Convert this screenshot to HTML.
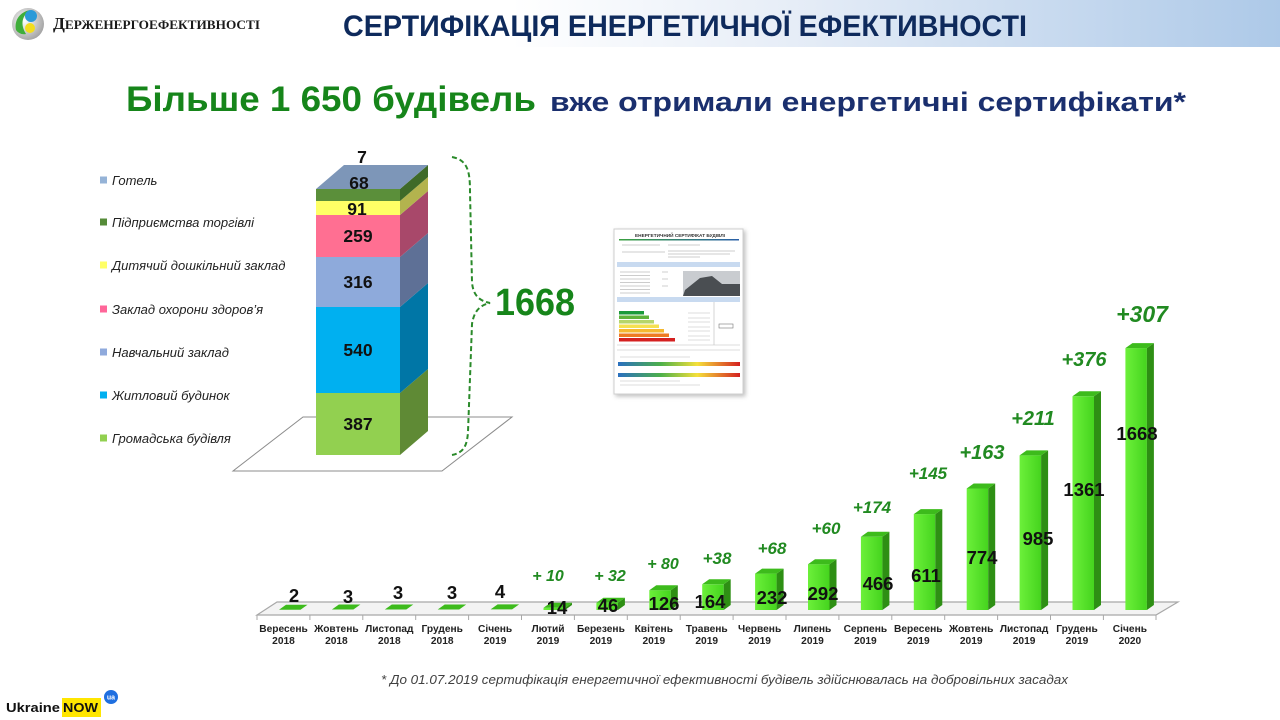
<!DOCTYPE html>
<html><head><meta charset="utf-8"><style>
html,body{margin:0;padding:0;background:#fff;}
svg{display:block;}
text{font-family:"Liberation Sans",sans-serif;}
</style></head><body>
<svg width="1280" height="720" viewBox="0 0 1280 720" xmlns="http://www.w3.org/2000/svg">
<defs>
<linearGradient id="hdr" x1="0" y1="0" x2="1" y2="0">
<stop offset="0" stop-color="#ffffff"/><stop offset="0.4" stop-color="#ffffff"/><stop offset="0.62" stop-color="#e6edf7"/><stop offset="1" stop-color="#adc9e8"/>
</linearGradient>
<linearGradient id="gf" x1="0" y1="0" x2="1" y2="0">
<stop offset="0" stop-color="#6cf03a"/><stop offset="1" stop-color="#45d41e"/>
</linearGradient>
<linearGradient id="scale" x1="0" y1="0" x2="1" y2="0">
<stop offset="0" stop-color="#2a6fc0"/><stop offset="0.35" stop-color="#4db04a"/><stop offset="0.65" stop-color="#f5e03a"/><stop offset="1" stop-color="#d42020"/>
</linearGradient>
<linearGradient id="tl" x1="0" y1="0" x2="1" y2="0">
<stop offset="0" stop-color="#3aa040"/><stop offset="1" stop-color="#2a5fa8"/>
</linearGradient>
<radialGradient id="logo" cx="0.4" cy="0.4" r="0.7">
<stop offset="0" stop-color="#ffffff"/><stop offset="1" stop-color="#9a9a9a"/>
</radialGradient>
<filter id="sh" x="-10%" y="-10%" width="130%" height="130%"><feDropShadow dx="2" dy="2" stdDeviation="2" flood-color="#000" flood-opacity="0.25"/></filter>
</defs>

<!-- header -->
<rect x="0" y="0" width="1280" height="47" fill="url(#hdr)"/>
<circle cx="28" cy="24" r="16" fill="url(#logo)"/>
<path d="M16,30 C14,20 20,12 30,10 C22,16 20,24 26,34 C22,35 18,33 16,30 Z" fill="#3fae3a"/>
<circle cx="31" cy="16" r="6" fill="#2a9ad8"/>
<circle cx="30" cy="28" r="5" fill="#f2dd1e"/>
<text x="53" y="29" style="font-family:'Liberation Serif',serif;font-weight:bold" fill="#1a1a1a" textLength="207" lengthAdjust="spacingAndGlyphs"><tspan font-size="17">Д</tspan><tspan font-size="13">ЕРЖЕНЕРГОЕФЕКТИВНОСТІ</tspan></text>
<text x="343" y="36" font-size="30" font-weight="bold" fill="#0e2a5c" textLength="684" lengthAdjust="spacingAndGlyphs">СЕРТИФІКАЦІЯ ЕНЕРГЕТИЧНОЇ ЕФЕКТИВНОСТІ</text>

<!-- subtitle -->
<text x="126" y="111" font-size="35" font-weight="bold" fill="#16851a" textLength="410" lengthAdjust="spacingAndGlyphs">Більше 1 650 будівель</text>
<text x="550" y="111" font-size="27" font-weight="bold" fill="#1a2f6e" textLength="636" lengthAdjust="spacingAndGlyphs">вже отримали енергетичні сертифікати*</text>

<!-- legend -->
<g font-size="13" font-style="italic" fill="#222">
<rect x="100" y="176.5" width="7" height="7" fill="#95b3d7"/><text x="112" y="185">Готель</text>
<rect x="100" y="218.5" width="7" height="7" fill="#558b38"/><text x="112" y="227">Підприємства торгівлі</text>
<rect x="100" y="261.5" width="7" height="7" fill="#ffff66"/><text x="112" y="270">Дитячий дошкільний заклад</text>
<rect x="100" y="305.5" width="7" height="7" fill="#ff6699"/><text x="112" y="314">Заклад охорони здоров’я</text>
<rect x="100" y="348.5" width="7" height="7" fill="#8faadc"/><text x="112" y="357">Навчальний заклад</text>
<rect x="100" y="391.5" width="7" height="7" fill="#00b0f0"/><text x="112" y="400">Житловий будинок</text>
<rect x="100" y="434.5" width="7" height="7" fill="#92d050"/><text x="112" y="443">Громадська будівля</text>
</g>

<!-- stacked floor -->
<polygon points="233,471 442,471 512,417 303,417" fill="#fff" stroke="#8c8c8c" stroke-width="1"/>

<!-- stacked bar -->
<g>
<rect x="316" y="393" width="84" height="62" fill="#92d050"/>
<polygon points="400,455 428,431 428,369 400,393" fill="#5f8a35"/>
<rect x="316" y="307" width="84" height="86" fill="#00b0f0"/>
<polygon points="400,393 428,369 428,283 400,307" fill="#0076a6"/>
<rect x="316" y="257" width="84" height="50" fill="#8eaadb"/>
<polygon points="400,307 428,283 428,233 400,257" fill="#5e7096"/>
<rect x="316" y="215" width="84" height="42" fill="#ff6f92"/>
<polygon points="400,257 428,233 428,191 400,215" fill="#a8486a"/>
<rect x="316" y="201" width="84" height="14" fill="#ffff66"/>
<polygon points="400,215 428,191 428,177 400,201" fill="#b3b34e"/>
<rect x="316" y="189" width="84" height="12" fill="#5b8f3a"/>
<polygon points="400,201 428,177 428,165 400,189" fill="#3f6a28"/>
<polygon points="316,189 344,165 428,165 400,189" fill="#7d96b8"/>
</g>
<g font-size="17.5" font-weight="bold" fill="#111" text-anchor="middle">
<text x="358" y="430">387</text>
<text x="358" y="356">540</text>
<text x="358" y="288">316</text>
<text x="358" y="242">259</text>
<text x="357" y="215">91</text>
<text x="359" y="189">68</text>
<text x="362" y="163">7</text>
</g>

<!-- brace -->
<path d="M452,157 C468,160 470,172 470,192 L472,282 C473,296 480,301 490,303 C480,305 474,311 472,324 L468,432 C467,448 462,453 452,455" fill="none" stroke="#2a8a2a" stroke-width="2" stroke-dasharray="5,3"/>
<text x="495" y="315" font-size="38" font-weight="bold" fill="#16851a" textLength="80" lengthAdjust="spacingAndGlyphs">1668</text>

<!-- certificate -->
<g filter="url(#sh)">
<rect x="614" y="229" width="129" height="165" fill="#fff" stroke="#cfcfcf" stroke-width="1"/>
</g>
<text x="680" y="237" font-size="4.5" font-weight="bold" fill="#333" text-anchor="middle" textLength="90" lengthAdjust="spacingAndGlyphs">ЕНЕРГЕТИЧНИЙ СЕРТИФІКАТ БУДІВЛІ</text>
<rect x="619" y="239" width="120" height="1.5" fill="url(#tl)"/>
<g stroke="#bbb" stroke-width="0.8">
<line x1="622" y1="245" x2="660" y2="245"/><line x1="668" y1="245" x2="700" y2="245"/>
<line x1="622" y1="252" x2="665" y2="252"/><line x1="668" y1="251" x2="735" y2="251"/><line x1="668" y1="254" x2="730" y2="254"/><line x1="668" y1="257" x2="700" y2="257"/>
</g>
<rect x="617" y="262" width="123" height="5" fill="#c8daf0"/>
<g stroke="#bbb" stroke-width="0.7">
<line x1="620" y1="272" x2="650" y2="272"/><line x1="620" y1="275.5" x2="650" y2="275.5"/><line x1="620" y1="279" x2="650" y2="279"/><line x1="620" y1="282.5" x2="650" y2="282.5"/><line x1="620" y1="286" x2="650" y2="286"/><line x1="620" y1="289.5" x2="650" y2="289.5"/><line x1="620" y1="293" x2="650" y2="293"/>
<line x1="662" y1="272" x2="668" y2="272"/><line x1="662" y1="279" x2="668" y2="279"/><line x1="662" y1="286" x2="668" y2="286"/>
</g>
<rect x="683" y="271" width="57" height="25" fill="#c9ccd0"/>
<polygon points="685,290 700,278 712,276 722,284 740,284 740,296 683,296" fill="#4a4e52"/>
<rect x="617" y="297" width="123" height="5" fill="#c8daf0"/>
<rect x="619" y="311" width="25" height="3.5" fill="#1a9a3a"/>
<rect x="619" y="315.5" width="30" height="3.5" fill="#5db33a"/>
<rect x="619" y="320" width="35" height="3.5" fill="#b5d56a"/>
<rect x="619" y="324.5" width="40" height="3.5" fill="#f5e050"/>
<rect x="619" y="329" width="45" height="3.5" fill="#f5b830"/>
<rect x="619" y="333.5" width="50" height="3.5" fill="#ee7a22"/>
<rect x="619" y="338" width="56" height="3.5" fill="#d42020"/>
<g stroke="#bbb" stroke-width="0.6">
<line x1="688" y1="313" x2="710" y2="313"/><line x1="688" y1="318" x2="710" y2="318"/><line x1="688" y1="322" x2="710" y2="322"/><line x1="688" y1="327" x2="710" y2="327"/><line x1="688" y1="331" x2="710" y2="331"/><line x1="688" y1="336" x2="710" y2="336"/><line x1="688" y1="340" x2="710" y2="340"/>
<line x1="714" y1="302" x2="714" y2="345"/>
<line x1="617" y1="345" x2="740" y2="345"/><line x1="617" y1="350" x2="740" y2="350"/>
<line x1="620" y1="357" x2="690" y2="357"/>
<line x1="620" y1="381" x2="680" y2="381"/><line x1="620" y1="385" x2="700" y2="385"/>
</g>
<rect x="719" y="324" width="14" height="4" fill="none" stroke="#777" stroke-width="0.6"/>
<rect x="618" y="362" width="122" height="4" fill="url(#scale)"/>
<rect x="618" y="373" width="122" height="4" fill="url(#scale)"/>

<!-- growth chart floor -->
<polygon points="257,615 1156,615 1178,602 277,602" fill="#f3f3f3" stroke="#a8a8a8" stroke-width="1.2"/>
<g stroke="#a8a8a8" stroke-width="1">
<line x1="257" y1="615" x2="257" y2="620"/><line x1="309.9" y1="615" x2="309.9" y2="620"/><line x1="362.8" y1="615" x2="362.8" y2="620"/><line x1="415.7" y1="615" x2="415.7" y2="620"/><line x1="468.6" y1="615" x2="468.6" y2="620"/><line x1="521.5" y1="615" x2="521.5" y2="620"/><line x1="574.4" y1="615" x2="574.4" y2="620"/><line x1="627.3" y1="615" x2="627.3" y2="620"/><line x1="680.2" y1="615" x2="680.2" y2="620"/><line x1="733.1" y1="615" x2="733.1" y2="620"/><line x1="786" y1="615" x2="786" y2="620"/><line x1="838.9" y1="615" x2="838.9" y2="620"/><line x1="891.8" y1="615" x2="891.8" y2="620"/><line x1="944.7" y1="615" x2="944.7" y2="620"/><line x1="997.6" y1="615" x2="997.6" y2="620"/><line x1="1050.5" y1="615" x2="1050.5" y2="620"/><line x1="1103.4" y1="615" x2="1103.4" y2="620"/><line x1="1156" y1="615" x2="1156" y2="620"/>
</g>

<!-- bars -->
<g>
<polygon points="279,609.7 286,604.7 307.5,604.7 300.5,609.7" fill="#3dbb1c"/>
<polygon points="331.9,609.5 338.9,604.5 360.4,604.5 353.4,609.5" fill="#3dbb1c"/>
<polygon points="384.8,609.5 391.8,604.5 413.3,604.5 406.3,609.5" fill="#3dbb1c"/>
<polygon points="437.7,609.5 444.7,604.5 466.2,604.5 459.2,609.5" fill="#3dbb1c"/>
<polygon points="490.6,609.4 497.6,604.4 519.1,604.4 512.1,609.4" fill="#3dbb1c"/>

<rect x="543.5" y="607.8" width="21.5" height="2.2" fill="url(#gf)"/>
<polygon points="565,607.8 572,602.8 572,605 565,610" fill="#2e8f14"/>
<polygon points="543.5,607.8 550.5,602.8 572,602.8 565,607.8" fill="#3dbb1c"/>

<rect x="596.4" y="602.8" width="21.5" height="7.2" fill="url(#gf)"/>
<polygon points="617.9,602.8 624.9,597.8 624.9,605 617.9,610" fill="#2e8f14"/>
<polygon points="596.4,602.8 603.4,597.8 624.9,597.8 617.9,602.8" fill="#3dbb1c"/>

<rect x="649.3" y="590.2" width="21.5" height="19.8" fill="url(#gf)"/>
<polygon points="670.8,590.2 677.8,585.2 677.8,605 670.8,610" fill="#2e8f14"/>
<polygon points="649.3,590.2 656.3,585.2 677.8,585.2 670.8,590.2" fill="#3dbb1c"/>

<rect x="702.2" y="584.3" width="21.5" height="25.7" fill="url(#gf)"/>
<polygon points="723.7,584.3 730.7,579.3 730.7,605 723.7,610" fill="#2e8f14"/>
<polygon points="702.2,584.3 709.2,579.3 730.7,579.3 723.7,584.3" fill="#3dbb1c"/>

<rect x="755.1" y="573.6" width="21.5" height="36.4" fill="url(#gf)"/>
<polygon points="776.6,573.6 783.6,568.6 783.6,605 776.6,610" fill="#2e8f14"/>
<polygon points="755.1,573.6 762.1,568.6 783.6,568.6 776.6,573.6" fill="#3dbb1c"/>

<rect x="808" y="564.2" width="21.5" height="45.8" fill="url(#gf)"/>
<polygon points="829.5,564.2 836.5,559.2 836.5,605 829.5,610" fill="#2e8f14"/>
<polygon points="808,564.2 815,559.2 836.5,559.2 829.5,564.2" fill="#3dbb1c"/>

<rect x="860.9" y="536.8" width="21.5" height="73.2" fill="url(#gf)"/>
<polygon points="882.4,536.8 889.4,531.8 889.4,605 882.4,610" fill="#2e8f14"/>
<polygon points="860.9,536.8 867.9,531.8 889.4,531.8 882.4,536.8" fill="#3dbb1c"/>

<rect x="913.8" y="514.1" width="21.5" height="95.9" fill="url(#gf)"/>
<polygon points="935.3,514.1 942.3,509.1 942.3,605 935.3,610" fill="#2e8f14"/>
<polygon points="913.8,514.1 920.8,509.1 942.3,509.1 935.3,514.1" fill="#3dbb1c"/>

<rect x="966.7" y="488.5" width="21.5" height="121.5" fill="url(#gf)"/>
<polygon points="988.2,488.5 995.2,483.5 995.2,605 988.2,610" fill="#2e8f14"/>
<polygon points="966.7,488.5 973.7,483.5 995.2,483.5 988.2,488.5" fill="#3dbb1c"/>

<rect x="1019.6" y="455.4" width="21.5" height="154.6" fill="url(#gf)"/>
<polygon points="1041.1,455.4 1048.1,450.4 1048.1,605 1041.1,610" fill="#2e8f14"/>
<polygon points="1019.6,455.4 1026.6,450.4 1048.1,450.4 1041.1,455.4" fill="#3dbb1c"/>

<rect x="1072.5" y="396.3" width="21.5" height="213.7" fill="url(#gf)"/>
<polygon points="1094,396.3 1101,391.3 1101,605 1094,610" fill="#2e8f14"/>
<polygon points="1072.5,396.3 1079.5,391.3 1101,391.3 1094,396.3" fill="#3dbb1c"/>

<rect x="1125.4" y="348.1" width="21.5" height="261.9" fill="url(#gf)"/>
<polygon points="1146.9,348.1 1153.9,343.1 1153.9,605 1146.9,610" fill="#2e8f14"/>
<polygon points="1125.4,348.1 1132.4,343.1 1153.9,343.1 1146.9,348.1" fill="#3dbb1c"/>
</g>

<!-- value labels -->
<g font-size="18.5" font-weight="bold" fill="#111" text-anchor="middle">
<text x="294" y="602">2</text>
<text x="348" y="603">3</text>
<text x="398" y="599">3</text>
<text x="452" y="599">3</text>
<text x="500" y="598">4</text>
<text x="557" y="614">14</text>
<text x="608" y="612">46</text>
<text x="664" y="610">126</text>
<text x="710" y="608">164</text>
<text x="772" y="604">232</text>
<text x="823" y="600">292</text>
<text x="878" y="590">466</text>
<text x="926" y="582">611</text>
<text x="982" y="564">774</text>
<text x="1038" y="545">985</text>
<text x="1084" y="496">1361</text>
<text x="1137" y="440">1668</text>
</g>

<!-- growth labels -->
<g font-weight="bold" font-style="italic" fill="#218a21" text-anchor="middle">
<text x="548" y="581" font-size="16">+ 10</text>
<text x="610" y="581" font-size="16">+ 32</text>
<text x="663" y="569" font-size="16">+ 80</text>
<text x="717" y="564" font-size="17">+38</text>
<text x="772" y="554" font-size="17">+68</text>
<text x="826" y="534" font-size="17">+60</text>
<text x="872" y="513" font-size="17">+174</text>
<text x="928" y="479" font-size="17">+145</text>
<text x="982" y="459" font-size="20">+163</text>
<text x="1033" y="425" font-size="20">+211</text>
<text x="1084" y="366" font-size="20">+376</text>
<text x="1142" y="322" font-size="23">+307</text>
</g>

<!-- category labels -->
<g font-size="10.2" font-weight="bold" fill="#222" text-anchor="middle">
<text x="283.5" y="632">Вересень</text><text x="283.5" y="644">2018</text>
<text x="336.4" y="632">Жовтень</text><text x="336.4" y="644">2018</text>
<text x="389.3" y="632">Листопад</text><text x="389.3" y="644">2018</text>
<text x="442.2" y="632">Грудень</text><text x="442.2" y="644">2018</text>
<text x="495.1" y="632">Січень</text><text x="495.1" y="644">2019</text>
<text x="548" y="632">Лютий</text><text x="548" y="644">2019</text>
<text x="600.9" y="632">Березень</text><text x="600.9" y="644">2019</text>
<text x="653.8" y="632">Квітень</text><text x="653.8" y="644">2019</text>
<text x="706.7" y="632">Травень</text><text x="706.7" y="644">2019</text>
<text x="759.6" y="632">Червень</text><text x="759.6" y="644">2019</text>
<text x="812.5" y="632">Липень</text><text x="812.5" y="644">2019</text>
<text x="865.4" y="632">Серпень</text><text x="865.4" y="644">2019</text>
<text x="918.3" y="632">Вересень</text><text x="918.3" y="644">2019</text>
<text x="971.2" y="632">Жовтень</text><text x="971.2" y="644">2019</text>
<text x="1024.1" y="632">Листопад</text><text x="1024.1" y="644">2019</text>
<text x="1077" y="632">Грудень</text><text x="1077" y="644">2019</text>
<text x="1129.9" y="632">Січень</text><text x="1129.9" y="644">2020</text>
</g>

<!-- footnote -->
<text x="381" y="684" font-size="12.5" font-style="italic" fill="#404040" textLength="687" lengthAdjust="spacingAndGlyphs">* До 01.07.2019  сертифікація енергетичної ефективності будівель здійснювалась на добровільних засадах</text>

<!-- Ukraine NOW -->
<rect x="62" y="698" width="39" height="19" fill="#ffe600"/>
<text x="6" y="712" font-size="13" font-weight="bold" fill="#111" textLength="54" lengthAdjust="spacingAndGlyphs">Ukraine</text>
<text x="63" y="712" font-size="13" font-weight="bold" fill="#111" textLength="35" lengthAdjust="spacingAndGlyphs">NOW</text>
<circle cx="111" cy="697" r="7" fill="#1f6fe0"/>
<text x="111" y="699.5" font-size="7" font-weight="bold" fill="#fff" text-anchor="middle">ua</text>
</svg>
</body></html>
